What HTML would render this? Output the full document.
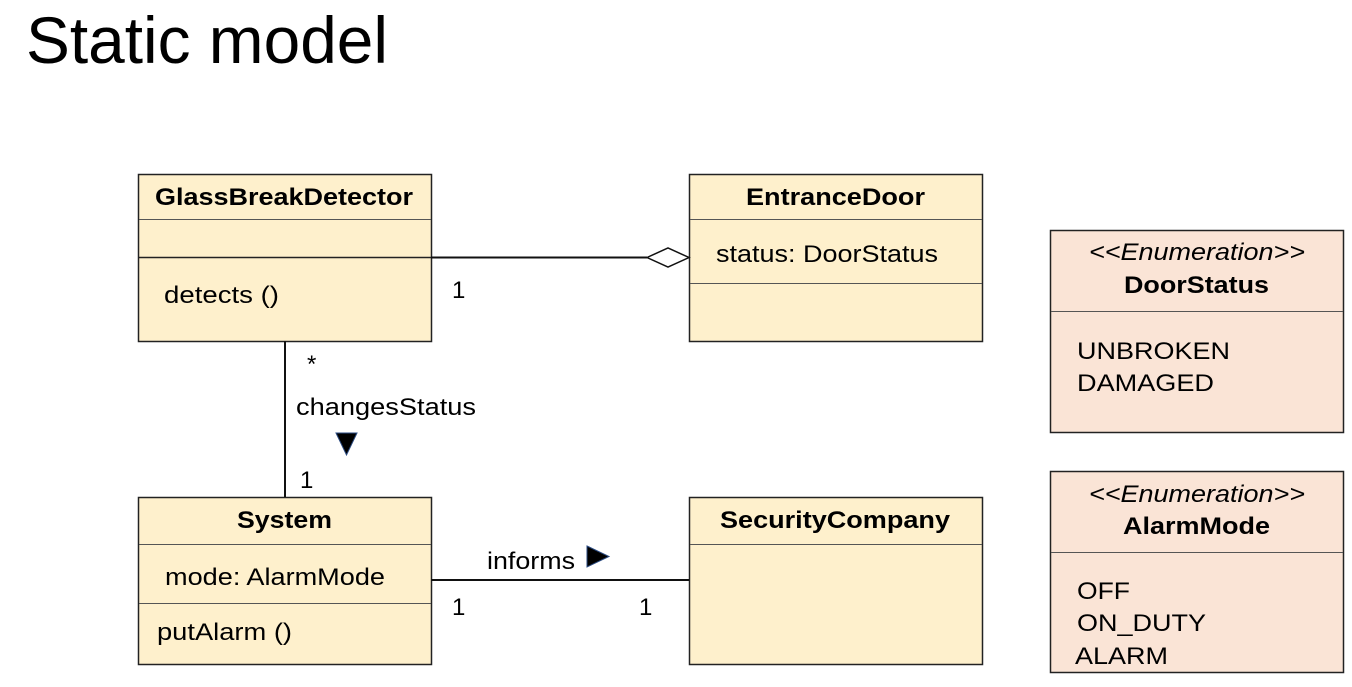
<!DOCTYPE html>
<html><head><meta charset="utf-8"><style>
html,body{margin:0;padding:0;background:#fff;}
svg{display:block;}
text{font-family:"Liberation Sans",Arial,sans-serif;fill:#000;}
</style></head><body>
<svg width="1352" height="687" viewBox="0 0 1352 687" xmlns="http://www.w3.org/2000/svg">
<text x="26" y="63" font-size="66" textLength="362" lengthAdjust="spacingAndGlyphs">Static model</text>

<g stroke="#222" stroke-width="1.5" fill="#FEF0CC">
<rect x="138.5" y="174.5" width="293" height="167"/>
<rect x="689.5" y="174.5" width="293" height="167"/>
<rect x="138.5" y="497.5" width="293" height="167"/>
<rect x="689.5" y="497.5" width="293" height="167"/>
</g>
<g stroke="#222" stroke-width="1.5" fill="#FAE4D6">
<rect x="1050.5" y="230.5" width="293" height="202"/>
<rect x="1050.5" y="471.5" width="293" height="201"/>
</g>
<g stroke="#555" stroke-width="1">
<line x1="139" y1="219.5" x2="431" y2="219.5"/>
<line x1="139" y1="257.5" x2="431" y2="257.5" stroke="#222" stroke-width="1.5"/>
<line x1="690" y1="219.5" x2="982" y2="219.5"/>
<line x1="690" y1="283.5" x2="982" y2="283.5"/>
<line x1="139" y1="544.5" x2="431" y2="544.5"/>
<line x1="139" y1="603.5" x2="431" y2="603.5"/>
<line x1="690" y1="544.5" x2="982" y2="544.5"/>
<line x1="1051" y1="311.5" x2="1343" y2="311.5"/>
<line x1="1051" y1="552.5" x2="1343" y2="552.5"/>
</g>

<g stroke="#111" stroke-width="2" fill="none">
<line x1="431" y1="257.5" x2="647" y2="257.5"/>
<line x1="285" y1="341" x2="285" y2="497"/>
<line x1="431" y1="580" x2="689" y2="580"/>
</g>
<polygon points="647,257.5 668,248 689,257.5 668,267" fill="#fff" stroke="#111" stroke-width="1.5"/>
<polygon points="336,433 357,433 346.5,455" fill="#000" stroke="#2a4a80" stroke-width="1"/>
<polygon points="587,546 609,556.5 587,567" fill="#000" stroke="#2a4a80" stroke-width="1"/>

<g font-size="24" lengthAdjust="spacingAndGlyphs">
<text x="155" y="205" font-weight="bold" textLength="258" lengthAdjust="spacingAndGlyphs">GlassBreakDetector</text>
<text x="164" y="303" textLength="115" lengthAdjust="spacingAndGlyphs">detects ()</text>
<text x="746" y="205" font-weight="bold" textLength="179" lengthAdjust="spacingAndGlyphs">EntranceDoor</text>
<text x="716" y="262" textLength="222" lengthAdjust="spacingAndGlyphs">status: DoorStatus</text>
<text x="237" y="528" font-weight="bold" textLength="95" lengthAdjust="spacingAndGlyphs">System</text>
<text x="165" y="585" textLength="220" lengthAdjust="spacingAndGlyphs">mode: AlarmMode</text>
<text x="157" y="640" textLength="135" lengthAdjust="spacingAndGlyphs">putAlarm ()</text>
<text x="720" y="528" font-weight="bold" textLength="230" lengthAdjust="spacingAndGlyphs">SecurityCompany</text>
<text x="1089" y="260" font-style="italic" textLength="216" lengthAdjust="spacingAndGlyphs">&lt;&lt;Enumeration&gt;&gt;</text>
<text x="1124" y="293" font-weight="bold" textLength="145" lengthAdjust="spacingAndGlyphs">DoorStatus</text>
<text x="1077" y="359" textLength="153" lengthAdjust="spacingAndGlyphs">UNBROKEN</text>
<text x="1077" y="391" textLength="137" lengthAdjust="spacingAndGlyphs">DAMAGED</text>
<text x="1089" y="502" font-style="italic" textLength="216" lengthAdjust="spacingAndGlyphs">&lt;&lt;Enumeration&gt;&gt;</text>
<text x="1123" y="534" font-weight="bold" textLength="147" lengthAdjust="spacingAndGlyphs">AlarmMode</text>
<text x="1077" y="599" textLength="53" lengthAdjust="spacingAndGlyphs">OFF</text>
<text x="1077" y="631" textLength="129" lengthAdjust="spacingAndGlyphs">ON_DUTY</text>
<text x="1075" y="664" textLength="93" lengthAdjust="spacingAndGlyphs">ALARM</text>
<text x="452" y="298">1</text>
<text x="307" y="372">*</text>
<text x="296" y="415" textLength="180" lengthAdjust="spacingAndGlyphs">changesStatus</text>
<text x="300" y="488">1</text>
<text x="487" y="569" textLength="88" lengthAdjust="spacingAndGlyphs">informs</text>
<text x="452" y="615">1</text>
<text x="639" y="615">1</text>
</g>
</svg>
</body></html>
